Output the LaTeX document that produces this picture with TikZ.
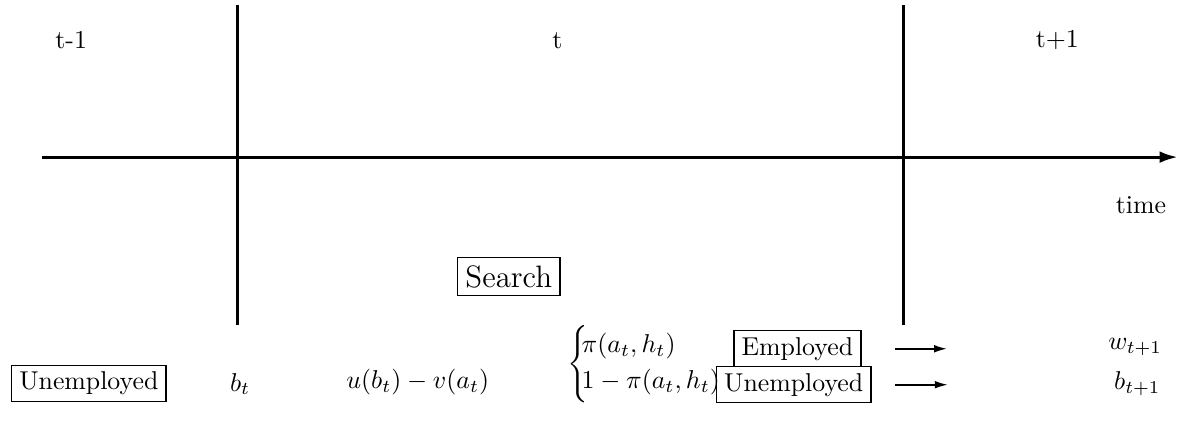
\documentclass[tikz,border=0pt]{standalone}
\usetikzlibrary{arrows.meta}
\begin{document}
\begin{tikzpicture}[x=1cm, y=1cm,
    statebox/.style={draw, line width=0.5pt, inner xsep=3pt, inner ysep=2.5pt},
    axisline/.style={line width=1.1pt},
    flow/.style={line width=0.6pt, -{Latex[length=5pt,width=3pt]}}]
    \useasboundingbox (0,0) rectangle (16.18,5.98);

    % 时间轴
    \coordinate (tstart) at (0.57,3.84);
    \coordinate (tend) at (16.04,3.84);
    \draw[axisline, -{Latex[length=7pt,width=4.5pt]}] (tstart) -- (tend);
    \node (time) at (15.54,3.19) {time};

    % 期间分隔线
    \coordinate (atop) at (3.24,5.91);
    \coordinate (abot) at (3.24,1.55);
    \coordinate (btop) at (12.30,5.91);
    \coordinate (bbot) at (12.30,1.55);
    \draw[axisline] (atop) -- (abot);
    \draw[axisline] (btop) -- (bbot);

    % 期间标签
    \node (prev) at (0.97,5.43) {t-1};
    \node (now) at (7.59,5.43) {t};
    \node (next) at (14.40,5.43) {t+1};

    % 搜寻
    \node[statebox, font=\large, inner sep=3pt] (search) at (6.93,2.21) {Search};

    % 第 t 期的状态与收益
    \node[statebox] (unemp) at (1.21,0.76) {Unemployed};
    \node (bt) at (3.27,0.75) {$b_t$};
    \node (util) at (5.69,0.78) {$u(b_t)-v(a_t)$};
    \node[anchor=west, inner sep=0pt] (prob) at (7.72,0.99)
        {$\left\{\vrule height 14pt depth 14pt width 0pt\kern-2.5pt
          \begin{array}{@{}l@{}}\pi(a_t,h_t)\\[2pt] 1-\pi(a_t,h_t)\end{array}\right.$};

    % 第 t+1 期的结果
    \node[statebox] (emp) at (10.86,1.23) {Employed};
    \node[statebox] (unemp2) at (10.81,0.74) {Unemployed};
    \node (wnext) at (15.46,1.25) {$w_{t+1}$};
    \node (bnext) at (15.49,0.75) {$b_{t+1}$};
    \draw[flow, shorten <=13pt, shorten >=59pt] (emp.east) -- (emp.east -| wnext.west);
    \draw[flow, shorten <=13pt, shorten >=61pt] (unemp2.east -| emp.east) -- (unemp2.east -| bnext.west);
\end{tikzpicture}
\end{document}
